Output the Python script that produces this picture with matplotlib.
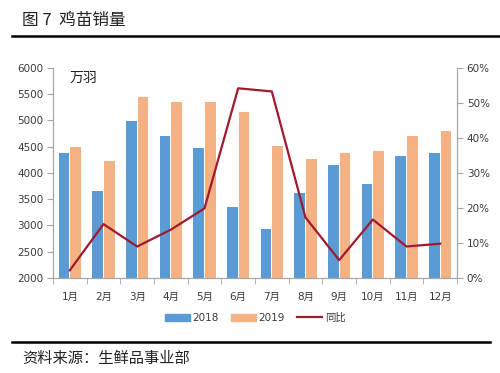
import matplotlib
matplotlib.use("Agg")
import matplotlib.pyplot as plt
import numpy as np
from matplotlib.patches import Patch
from matplotlib.lines import Line2D

plt.rcParams['font.family'] = ['DejaVu Sans', 'Noto Sans CJK SC']

months = ['1月', '2月', '3月', '4月', '5月', '6月', '7月', '8月', '9月', '10月', '11月', '12月']
sales_2018 = [4390, 3655, 4990, 4710, 4470, 3345, 2940, 3620, 4160, 3795, 4325, 4375]
sales_2019 = [4490, 4230, 5440, 5350, 5350, 5160, 4505, 4260, 4380, 4425, 4705, 4805]
yoy = [2.2, 15.4, 9.0, 13.8, 19.9, 54.2, 53.3, 17.3, 5.1, 16.7, 9.0, 9.8]

left_ticks = [2000, 2500, 3000, 3500, 4000, 4500, 5000, 5500, 6000]
right_ticks = [0, 10, 20, 30, 40, 50, 60]

c_blue = '#5B9BD5'
c_orange = '#F4B183'
c_line = '#A01A2E'
c_axis = '#A6A6A6'
c_text = '#3A3A3A'

fig = plt.figure(figsize=(5.0, 3.73), dpi=100)
ax = fig.add_axes([0.106, 0.2547, 0.808, 0.563])
ax2 = ax.twinx()

x = np.arange(len(months))
w = 0.32
ax.bar(x - 0.17, sales_2018, width=w, color=c_blue, zorder=2)
ax.bar(x + 0.17, sales_2019, width=w, color=c_orange, zorder=2)
ax2.plot(x, yoy, color=c_line, lw=1.6, zorder=3)

ax.set_xlim(-0.5, len(months) - 0.5)
ax.set_ylim(2000, 6000)
ax.set_yticks(left_ticks)
ax.set_yticklabels([str(v) for v in left_ticks])
ax2.set_ylim(0, 60)
ax2.set_yticks(right_ticks)
ax2.set_yticklabels([f'{v}%' for v in right_ticks])

ax.set_xticks(x)
ax.set_xticklabels(months)
ax.set_xticks(np.arange(-0.5, len(months)), minor=True)
ax.tick_params(axis='x', which='major', length=0, pad=10, labelsize=7.5, labelcolor=c_text)
ax.tick_params(axis='x', which='minor', length=4, color=c_axis, direction='out')
ax.tick_params(axis='y', length=4, color=c_axis, labelsize=7.5, labelcolor=c_text, pad=3)
ax2.tick_params(axis='y', length=4, color=c_axis, labelsize=7.5, labelcolor=c_text, pad=3)

for a in (ax, ax2):
    a.spines['top'].set_visible(False)
    for s in ('left', 'right', 'bottom'):
        a.spines[s].set_color(c_axis)
        a.spines[s].set_linewidth(0.8)
ax.set_facecolor('none')

ax.text(0.042, 0.985, '万羽', transform=ax.transAxes, fontsize=10,
        family=['Noto Sans CJK SC'], color='#222222', va='top', ha='left')

handles = [Patch(color=c_blue), Patch(color=c_orange), Line2D([0], [0], color=c_line, lw=1.6)]
fig.legend(handles, ['2018', '2019', '同比'], loc='center', bbox_to_anchor=(0.51, 0.148),
           ncol=3, frameon=False, fontsize=7.5, handlelength=2.4, handletextpad=0.3,
           columnspacing=1.1, labelcolor=c_text)

fig.text(0.044, 0.946, '图 7  鸡苗销量', fontsize=12, family=['Noto Sans CJK SC'],
         color='#222222', va='center', ha='left')
fig.add_artist(Line2D([0.024, 1.0], [0.903, 0.903], color='black', lw=1.8, transform=fig.transFigure))
fig.add_artist(Line2D([0.024, 0.98], [0.083, 0.083], color='black', lw=1.8, transform=fig.transFigure))
fig.text(0.044, 0.040, '资料来源：生鲜品事业部', fontsize=11, family=['Noto Sans CJK SC'],
         color='#222222', va='center', ha='left')

fig.savefig('out.png', dpi=100, facecolor='white')
